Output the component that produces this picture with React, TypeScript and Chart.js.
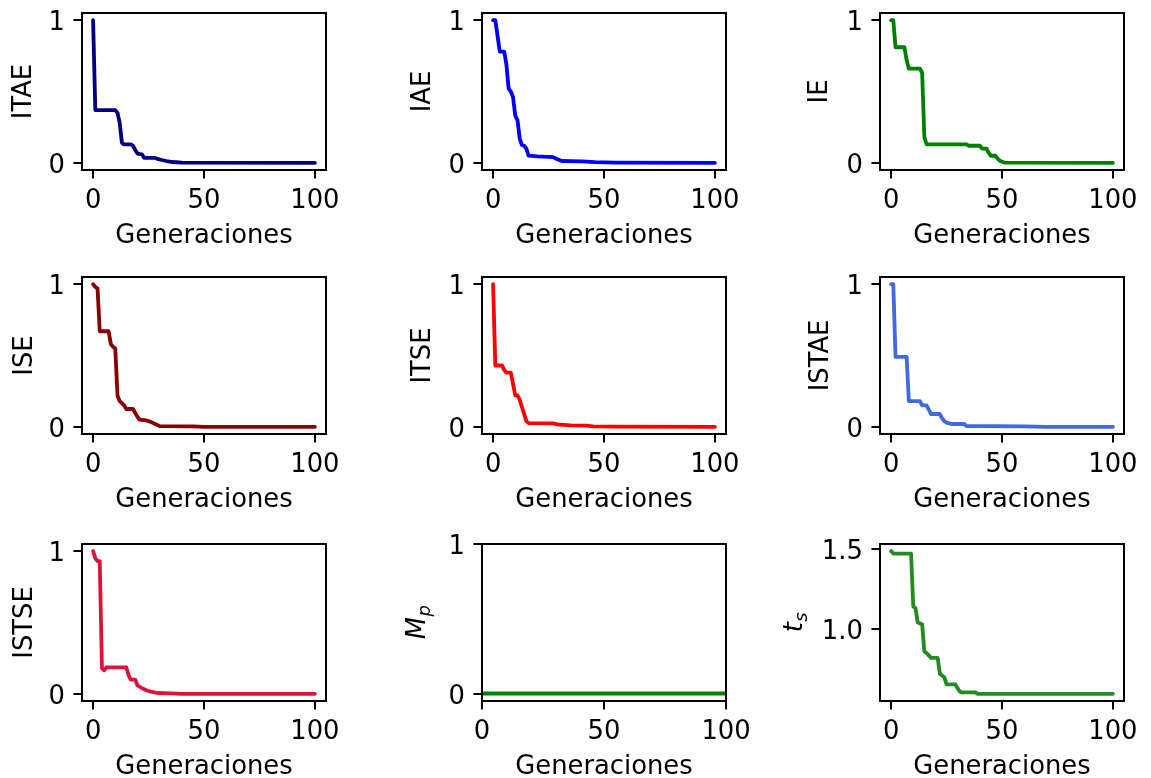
import React, { useEffect, useRef } from 'react';
import { Chart, registerables } from 'chart.js';

Chart.register(...registerables);

// ---- data ----
const generationTicks = [0, 50, 100];
const unitTicks = [0, 1];
const tsTicks = [1.0, 1.5];

const itaeGen = [0, 1, 10, 11, 12, 13, 14, 17, 18, 19, 20, 22, 23, 28, 29, 31, 33, 36, 40, 100];
const itaeVal = [1, 0.37, 0.37, 0.35, 0.28, 0.14, 0.13, 0.13, 0.12, 0.09, 0.065, 0.06, 0.035, 0.035, 0.028, 0.02, 0.013, 0.006, 0.001, 0];

const iaeGen = [0, 1, 3, 5, 6, 7, 8, 9, 10, 11, 12, 13, 14, 15, 16, 20, 27, 29, 31, 40, 46, 55, 100];
const iaeVal = [1, 1, 0.78, 0.78, 0.69, 0.52, 0.5, 0.46, 0.33, 0.3, 0.17, 0.125, 0.12, 0.1, 0.05, 0.045, 0.04, 0.025, 0.013, 0.01, 0.005, 0.002, 0];

const ieGen = [0, 1, 2, 6, 7, 8, 13, 14, 15, 16, 34, 35, 40, 41, 43, 44, 45, 47, 48, 49, 51, 100];
const ieVal = [1, 1, 0.81, 0.81, 0.72, 0.66, 0.66, 0.63, 0.18, 0.13, 0.13, 0.12, 0.12, 0.1, 0.1, 0.07, 0.05, 0.05, 0.03, 0.015, 0.002, 0];

const iseGen = [0, 1, 2, 3, 7, 8, 9, 10, 11, 12, 14, 15, 18, 20, 21, 24, 26, 28, 30, 45, 50, 100];
const iseVal = [1, 0.98, 0.97, 0.67, 0.67, 0.58, 0.56, 0.55, 0.22, 0.18, 0.15, 0.125, 0.125, 0.07, 0.05, 0.045, 0.035, 0.02, 0.005, 0.003, 0, 0];

const itseGen = [0, 1, 4, 5, 6, 8, 9, 10, 11, 12, 13, 14, 15, 16, 27, 29, 35, 42, 45, 55, 100];
const itseVal = [1, 0.43, 0.43, 0.4, 0.38, 0.38, 0.3, 0.22, 0.22, 0.19, 0.14, 0.09, 0.04, 0.026, 0.025, 0.018, 0.01, 0.008, 0.003, 0.001, 0];

const istaeGen = [0, 1, 2, 7, 8, 13, 14, 16, 17, 18, 22, 23, 24, 25, 27, 33, 34, 60, 70, 100];
const istaeVal = [1, 1, 0.49, 0.49, 0.18, 0.18, 0.15, 0.15, 0.12, 0.09, 0.09, 0.06, 0.04, 0.03, 0.02, 0.02, 0.006, 0.003, 0, 0];

const istseGen = [0, 1, 2, 3, 4, 5, 6, 15, 16, 17, 19, 20, 21, 22, 24, 26, 29, 35, 40, 100];
const istseVal = [1, 0.95, 0.93, 0.93, 0.18, 0.165, 0.185, 0.185, 0.13, 0.1, 0.1, 0.06, 0.05, 0.04, 0.025, 0.015, 0.006, 0.004, 0, 0];

const mpGen = [0, 100];
const mpVal = [0, 0];

const tsGen = [0, 1, 9, 10, 11, 12, 14, 15, 16, 18, 21, 22, 23, 24, 25, 29, 30, 31, 32, 38, 39, 100];
const tsVal = [1.485, 1.47, 1.47, 1.14, 1.13, 1.04, 1.03, 0.86, 0.85, 0.82, 0.82, 0.72, 0.71, 0.7, 0.655, 0.655, 0.63, 0.61, 0.605, 0.605, 0.596, 0.596];

// ---- layout / style ----
const FONT_FAMILY = 'DejaVu Sans';
const FONT_SIZE = 25.8;
const HALF_LINE = (FONT_SIZE * 1.2) / 2;
const CAP_SHIFT = (0.365 - 0.297) * FONT_SIZE;
const COL_LEFT = [82, 482, 880];
const ROW_TOP = [13, 277, 544];
const BOX_W = 244;
const BOX_H = 157;
const AXIS_W = 110;
const AXIS_H = 90;
const PAD_TOP = 27;
const PAD_RIGHT = 36;
const TICK_LEN = 8.6;

type PanelDef = {
  label: string;
  sub?: string;
  gen: number[];
  val: number[];
  color: string;
  row: number;
  col: number;
  yTicks: number[];
  labelOffset: number;
  xLimits?: [number, number];
  yLimits?: [number, number];
  decimals?: number;
};

const panels: PanelDef[] = [
  { label: 'ITAE', gen: itaeGen, val: itaeVal, color: '#000080', row: 0, col: 0, yTicks: unitTicks, labelOffset: 59 },
  { label: 'IAE', gen: iaeGen, val: iaeVal, color: '#0000ff', row: 0, col: 1, yTicks: unitTicks, labelOffset: 60 },
  { label: 'IE', gen: ieGen, val: ieVal, color: '#008000', row: 0, col: 2, yTicks: unitTicks, labelOffset: 61.7 },
  { label: 'ISE', gen: iseGen, val: iseVal, color: '#8b0000', row: 1, col: 0, yTicks: unitTicks, labelOffset: 58.7 },
  { label: 'ITSE', gen: itseGen, val: itseVal, color: '#ff0000', row: 1, col: 1, yTicks: unitTicks, labelOffset: 60 },
  { label: 'ISTAE', gen: istaeGen, val: istaeVal, color: '#4169e1', row: 1, col: 2, yTicks: unitTicks, labelOffset: 60 },
  { label: 'ISTSE', gen: istseGen, val: istseVal, color: '#dc143c', row: 2, col: 0, yTicks: unitTicks, labelOffset: 58.7 },
  { label: 'M', sub: 'p', gen: mpGen, val: mpVal, color: '#008000', row: 2, col: 1, yTicks: unitTicks, labelOffset: 57, xLimits: [0, 100], yLimits: [-0.05, 1] },
  { label: 't', sub: 's', gen: tsGen, val: tsVal, color: '#228b22', row: 2, col: 2, yTicks: tsTicks, labelOffset: 78, decimals: 1 },
];

function withMargins(values: number[]): [number, number] {
  const lo = Math.min(...values);
  const hi = Math.max(...values);
  const m = (hi - lo) * 0.05;
  return [lo - m, hi + m];
}

const framePlugin = {
  id: 'frame',
  afterDatasetsDraw(chart: any) {
    const { ctx, chartArea: a } = chart;
    ctx.save();
    ctx.strokeStyle = '#000';
    ctx.lineWidth = 2;
    ctx.strokeRect(a.left, a.top, a.right - a.left, a.bottom - a.top);
    ctx.restore();
  },
};

// y-axis label with a subscript (like matplotlib mathtext "$M_p$"), drawn as real text
const mathTitlePlugin = {
  id: 'mathTitle',
  afterDraw(chart: any, _args: any, opts: any) {
    if (!opts || !opts.base) return;
    const { ctx, chartArea: a } = chart;
    const subSize = FONT_SIZE * 0.7;
    const fullFont = `italic ${FONT_SIZE}px "${FONT_FAMILY}"`;
    const subFont = `italic ${subSize}px "${FONT_FAMILY}"`;
    ctx.save();
    ctx.fillStyle = '#000';
    ctx.textBaseline = 'alphabetic';
    ctx.textAlign = 'left';
    ctx.font = fullFont;
    const w1 = ctx.measureText(opts.base).width;
    ctx.font = subFont;
    const w2 = ctx.measureText(opts.sub).width;
    ctx.translate(a.left - opts.offset, (a.top + a.bottom) / 2);
    ctx.rotate(-Math.PI / 2);
    const x0 = -(w1 + w2) / 2;
    ctx.font = fullFont;
    ctx.fillText(opts.base, x0, 0);
    ctx.font = subFont;
    ctx.fillText(opts.sub, x0 + w1 + 0.5, FONT_SIZE * 0.2);
    ctx.restore();
  },
};

function Panel({ p }: { p: PanelDef }) {
  const ref = useRef<HTMLCanvasElement>(null);
  const width = AXIS_W + BOX_W + PAD_RIGHT;
  const height = PAD_TOP + BOX_H + AXIS_H;
  const left = COL_LEFT[p.col] - AXIS_W;
  const top = ROW_TOP[p.row] - PAD_TOP;

  useEffect(() => {
    const canvas = ref.current;
    if (!canvas) return;
    const [xMin, xMax] = p.xLimits ?? withMargins(p.gen);
    const [yMin, yMax] = p.yLimits ?? withMargins(p.val);
    const font = { family: FONT_FAMILY, size: FONT_SIZE };
    const grid = {
      display: true,
      drawOnChartArea: false,
      drawTicks: true,
      tickLength: TICK_LEN,
      tickWidth: 2,
      lineWidth: 2,
      color: '#000',
    };
    const chart = new Chart(canvas, {
      type: 'line',
      data: {
        datasets: [
          {
            data: p.gen.map((g, i) => ({ x: g, y: p.val[i] })),
            borderColor: p.color,
            borderWidth: 3.8,
            borderJoinStyle: 'round',
            borderCapStyle: 'round',
            pointRadius: 0,
            tension: 0,
            fill: false,
          },
        ],
      },
      options: {
        responsive: false,
        animation: false,
        events: [],
        layout: { padding: { left: 0, top: PAD_TOP, right: PAD_RIGHT, bottom: 0 } },
        plugins: {
          legend: { display: false },
          tooltip: { enabled: false },
          title: { display: false },
          mathTitle: p.sub ? { base: p.label, sub: p.sub, offset: p.labelOffset } : {},
        },
        scales: {
          x: {
            type: 'linear',
            min: xMin,
            max: xMax,
            afterBuildTicks: (s: any) => {
              s.ticks = generationTicks.map((v) => ({ value: v }));
            },
            afterFit: (s: any) => {
              s.height = AXIS_H;
            },
            ticks: { font, color: '#000', padding: 6.9, maxRotation: 0, autoSkip: false },
            grid,
            border: { display: false },
            title: {
              display: true,
              text: 'Generaciones',
              font,
              color: '#000',
              padding: { top: 0, bottom: 7.8 },
            },
          },
          y: {
            type: 'linear',
            min: yMin,
            max: yMax,
            afterBuildTicks: (s: any) => {
              s.ticks = p.yTicks.map((v) => ({ value: v }));
            },
            afterFit: (s: any) => {
              s.width = AXIS_W;
            },
            ticks: {
              font,
              color: '#000',
              padding: 8.6,
              labelOffset: 3.3,
              autoSkip: false,
              callback: (v: any) => (p.decimals ? Number(v).toFixed(p.decimals) : String(v)),
            },
            grid,
            border: { display: false },
            title: {
              display: !p.sub,
              text: p.label,
              font,
              color: '#000',
              padding: { top: AXIS_W - p.labelOffset + CAP_SHIFT - HALF_LINE, bottom: 0 },
            },
          },
        },
      } as any,
      plugins: [framePlugin, mathTitlePlugin],
    });
    return () => chart.destroy();
  }, [p]);

  return (
    <canvas
      ref={ref}
      width={width}
      height={height}
      style={{ position: 'absolute', left, top, width, height, display: 'block' }}
    />
  );
}

export default function App() {
  return (
    <div
      style={{
        position: 'absolute',
        left: 0,
        top: 0,
        width: 1151,
        height: 778,
        overflow: 'hidden',
        background: '#fff',
      }}
    >
      {panels.map((p) => (
        <Panel key={p.label} p={p} />
      ))}
    </div>
  );
}
